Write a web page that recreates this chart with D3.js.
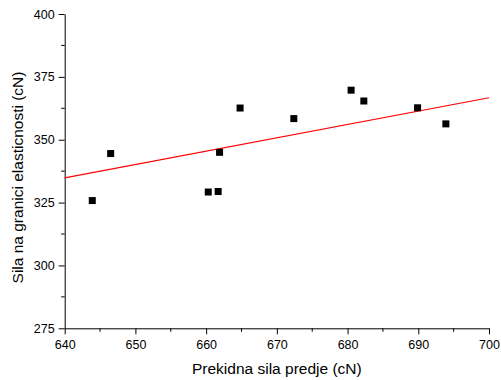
<!DOCTYPE html>
<html><head><meta charset="utf-8">
<script src="https://cdn.jsdelivr.net/npm/d3@7"></script>
<style>body{margin:0;background:#fff}svg{display:block}</style>
</head><body>
<script>
const xValues = [643.9, 646.5, 660.3, 661.7, 661.9, 664.8, 672.4, 680.5, 682.3, 689.9, 693.9];
const yValues = [325.8, 344.5, 329.2, 329.4, 345.0, 362.6, 358.4, 369.7, 365.4, 362.7, 356.3];
const fitX = [640, 700];
const fitY = [334.8, 366.7];
const xTicks = [640, 650, 660, 670, 680, 690, 700];
const yTicks = [275, 300, 325, 350, 375, 400];

const W = 501, H = 380;
const m = {left: 64.7, right: 12, top: 14, bottom: 51.7};
const svg = d3.select("body").append("svg").attr("width", W).attr("height", H);
const x = d3.scaleLinear().domain([640, 700]).range([m.left, W - m.right]);
const y = d3.scaleLinear().domain([275, 400]).range([H - m.bottom, m.top]);
const font = "Liberation Sans, Arial, sans-serif";

// minor ticks
const xMinor = d3.range(645, 700, 10);
const yMinor = d3.range(287.5, 400, 25);
svg.append("g").selectAll("line").data(xMinor).join("line")
  .attr("x1", d => x(d)).attr("x2", d => x(d))
  .attr("y1", y(275)).attr("y2", y(275) + 3.5).attr("stroke", "#000");
svg.append("g").selectAll("line").data(yMinor).join("line")
  .attr("y1", d => y(d)).attr("y2", d => y(d))
  .attr("x1", x(640)).attr("x2", x(640) - 3.5).attr("stroke", "#000");

const gx = svg.append("g").attr("transform", `translate(0,${y(275)})`)
  .call(d3.axisBottom(x).tickValues(xTicks).tickSize(6).tickPadding(6).tickSizeOuter(0));
const gy = svg.append("g").attr("transform", `translate(${x(640)},0)`)
  .call(d3.axisLeft(y).tickValues(yTicks).tickSize(6).tickPadding(4).tickSizeOuter(0));
[gx, gy].forEach(g => {
  g.selectAll("text").attr("font-family", font).attr("font-size", 12.5).attr("fill", "#000");
  g.selectAll("line,path").attr("stroke", "#000").attr("stroke-width", 1);
});

// fit line
const line = d3.line().x(d => x(d[0])).y(d => y(d[1]));
svg.append("path").datum(fitX.map((v, i) => [v, fitY[i]]))
  .attr("d", line).attr("stroke", "#ff0000").attr("stroke-width", 1.2).attr("fill", "none");

// points
const s = 7;
svg.append("g").selectAll("rect").data(xValues.map((v, i) => [v, yValues[i]])).join("rect")
  .attr("x", d => x(d[0]) - s / 2).attr("y", d => y(d[1]) - s / 2)
  .attr("width", s).attr("height", s).attr("fill", "#000");

svg.append("text").attr("x", (x(640) + x(700)) / 2).attr("y", 374)
  .attr("text-anchor", "middle").attr("font-family", font).attr("font-size", 15.5)
  .text("Prekidna sila predje (cN)");
svg.append("text").attr("transform", `translate(23,177.5) rotate(-90)`)
  .attr("text-anchor", "middle").attr("font-family", font).attr("font-size", 15.5)
  .text("Sila na granici elasticnosti (cN)");
</script>
</body></html>
